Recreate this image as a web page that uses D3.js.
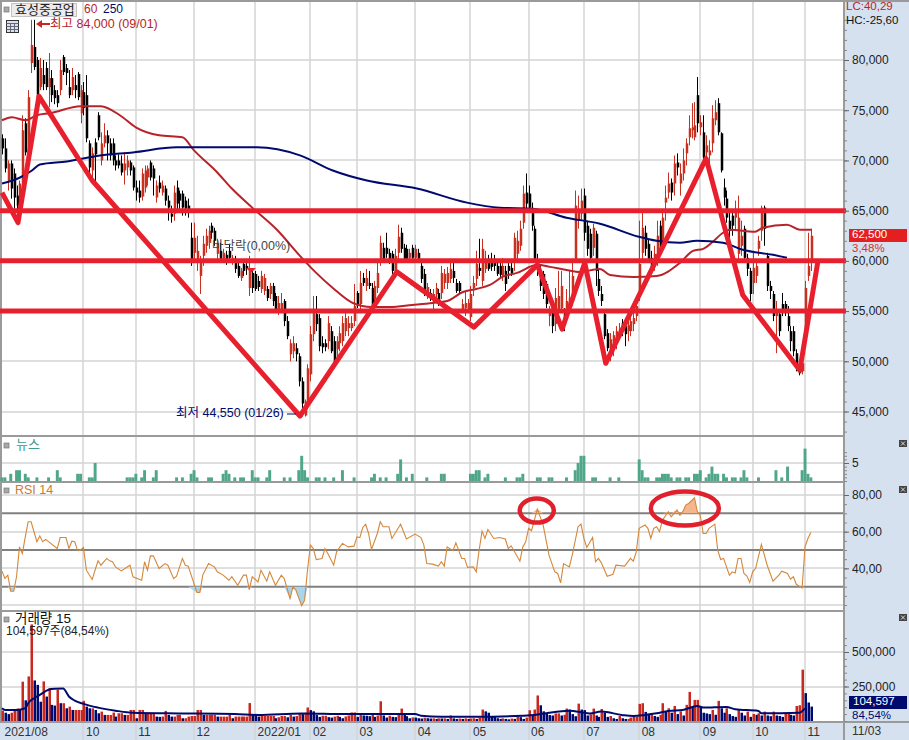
<!DOCTYPE html>
<html lang="ko">
<head>
<meta charset="utf-8">
<title>효성중공업</title>
<script src="https://cdn.jsdelivr.net/npm/d3@7"></script>
<style>
  html, body { margin: 0; padding: 0; background: #fff; }
  svg { display: block; }
  text { font-family: "Liberation Sans", "Noto Sans CJK KR", sans-serif; font-size: 12px; }
</style>
</head>
<body>
<div id="chart"></div>
<script>
// Daily candles, prices in hundreds of won
const opens = [722,712,680,697,687,665,655,677,737,707,
797,813,800,773,785,792,773,782,770,765,
770,803,792,773,770,775,786,747,768,765,
717,690,718,745,700,717,725,717,717,700,
700,697,690,693,698,693,673,670,664,673,
683,698,692,663,678,668,672,660,647,647,
673,667,667,660,655,623,608,600,585,605,
615,618,635,630,607,610,602,606,610,600,
602,595,583,597,595,573,588,587,580,572,
570,572,567,575,565,552,552,560,540,507,
510,513,505,480,446,460,487,527,547,543,
518,518,520,530,520,512,518,520,530,533,
533,540,568,557,583,575,578,573,562,573,
600,613,613,608,607,590,608,628,613,612,
603,613,603,608,595,587,568,568,558,567,
568,568,578,578,582,590,578,578,552,553,
552,544,573,582,593,580,592,602,602,602,
595,595,585,590,595,593,600,607,615,638,
668,667,650,632,600,590,587,577,545,557,
537,550,553,547,545,553,560,600,640,647,
665,635,627,613,627,582,567,547,528,507,
515,520,530,538,535,530,530,537,545,567,
608,628,617,603,597,598,635,618,658,668,
678,677,698,677,687,707,723,730,723,765,
733,728,708,705,717,740,757,727,673,662,
640,645,643,607,615,632,603,590,578,585,
612,630,653,605,575,567,545,547,557,557,
545,530,530,508,497,490,530,585,600];
const closes = [712,692,697,672,663,655,677,730,708,763,
815,793,763,792,776,773,782,765,762,757,
790,788,787,765,783,770,763,770,752,722,
693,707,706,723,717,725,717,705,700,695,
695,688,697,700,690,673,668,663,687,690,
692,683,682,675,672,675,660,653,644,668,
657,660,653,652,650,600,623,610,598,617,
625,630,628,620,618,602,608,600,603,603,
592,585,590,590,592,590,573,572,574,585,
583,563,575,560,552,558,558,540,525,518,
518,507,480,458,460,493,527,552,537,515,
514,514,538,510,497,520,528,538,543,538,
538,555,555,578,578,583,575,553,575,588,
618,602,607,600,590,605,624,612,602,602,
608,603,612,602,582,570,574,565,567,573,
560,588,587,588,592,583,570,570,557,558,
558,567,578,597,590,612,602,592,594,595,
587,586,595,577,590,588,623,620,632,667,
657,653,635,600,592,575,567,557,550,535,
563,565,575,540,560,563,585,655,650,660,
628,612,603,633,590,570,560,525,513,522,
526,530,532,530,527,536,540,543,555,597,
633,612,602,592,607,625,612,643,663,677,
668,697,693,687,700,717,732,733,735,737,
738,703,715,710,742,748,728,690,663,643,
630,635,650,643,625,603,592,567,593,595,
620,653,632,575,570,545,552,530,552,550,
535,520,510,497,488,498,573,595,625];
const highs = [726,722,700,700,692,675,680,745,742,770,
840,840,803,802,800,798,807,790,775,770,
800,805,796,790,792,785,788,775,778,785,
720,713,722,748,728,737,730,722,722,705,
706,705,708,705,700,695,680,680,692,695,
695,700,695,680,685,680,675,665,655,675,
680,670,670,664,662,638,638,625,605,625,
632,635,638,633,622,618,612,610,617,606,
605,598,593,600,600,605,592,590,585,590,
587,575,578,578,568,565,568,562,545,522,
525,518,508,484,462,497,535,565,565,547,
525,522,545,535,525,525,535,545,548,545,
545,577,570,590,588,592,590,578,580,600,
625,618,628,612,610,612,636,633,617,616,
612,616,616,612,600,592,578,572,572,578,
572,595,592,594,602,598,582,580,562,570,
562,575,585,610,622,622,610,606,608,606,
600,600,603,595,600,600,628,630,640,675,
687,675,658,635,607,595,590,580,555,560,
573,590,590,553,572,590,600,670,665,672,
672,640,632,637,630,592,575,552,532,528,
530,535,538,542,540,540,545,548,560,640,
648,635,622,610,615,640,640,650,675,688,
682,705,707,697,712,722,745,757,758,783,
745,745,725,720,755,760,762,728,682,670,
650,650,660,665,640,635,607,593,610,600,
625,655,655,608,580,570,560,550,568,560,
555,535,535,512,500,505,580,628,632];
const lows = [706,688,670,662,652,650,645,668,705,700,
787,790,760,770,770,770,753,758,756,753,
765,785,775,762,765,762,760,737,745,718,
688,683,675,720,695,713,700,700,695,690,
692,685,676,685,685,670,660,658,660,668,
675,680,665,658,668,665,655,640,638,640,
650,650,645,645,643,595,600,590,567,595,
608,612,622,615,600,598,598,596,598,596,
588,583,580,585,586,565,568,570,570,568,
566,560,562,555,548,546,548,535,522,500,
503,500,475,445,445,452,480,520,530,510,
508,510,512,508,495,505,510,515,525,525,
530,535,553,552,575,570,572,550,555,568,
595,598,603,597,587,585,600,608,598,600,
598,600,600,598,578,565,562,560,552,560,
555,562,572,572,578,578,568,567,550,545,
548,540,565,575,585,575,588,590,590,590,
585,583,580,570,582,585,590,600,610,632,
650,650,630,598,585,570,562,553,535,528,
530,540,548,530,540,548,555,598,632,640,
620,605,598,605,575,565,555,522,510,500,
505,512,525,525,515,520,525,530,540,560,
600,605,598,588,590,595,608,612,640,662,
660,665,685,665,680,695,715,722,720,728,
725,698,700,695,708,735,725,688,655,638,
622,625,630,600,605,600,585,560,567,578,
605,620,615,570,562,540,508,525,545,545,
530,510,505,490,486,487,520,580,590];

// Moving averages: bar position and price
const ma60Days = [0,3.4,8,12,16.5,27,34,40.5,46,54,62,66,74,79,86,94.5,102.4,108,113.7,120.6,127,133.3,141,148,153,158.4,163,167.7,172,177,184,188.3,194,198.6,205.5,209,217,225,233,237.5,241,244.3,247.8,250,258.8,261.5,269.8,274.2,278.4];
const ma60Values = [740,743,740,745,747,754,754,745,733,725,723,710,688,672,653,631,605,588,573,558,554,554,556,558,560,569,572,576,584,588,596,594,591,589,592,586,584,585,598,610,612,619,628,631,629,633,636,631,631];
const ma250Days = [0,6.2,10.3,13,22.3,33.7,45,60,87.6,102.4,113.7,125.4,142.6,159.8,171,182.5,194,205.5,218.9,225,233,238.8,247.8,254.6,265,269.8];
const ma250Values = [677,683,690,696,699,705,708,713,713,705,690,680,672,658,653,652,643,637,624,620,618,620,618,611,606,603];

// Support and resistance levels and the hand-drawn zigzag over the candles
const levels = [650,600,550];
const zigzagDays = [0,5.5,12.7,31,102.4,135.7,162.2,184,192.5,200.3,207.5,242,254.6,274.2,280.4];
const zigzagPrices = [668,638,764,680,445.5,589,534,596,532,598,498,702,566,491,599];

// Month labels on the time axis
const monthDays = [0,28,46,66,87,106,122,142,161,181,200,219,240,258,276];
const monthLabels = ["2021/08","10","11","12","2022/01","02","03","04","05","06","07","08","09","10","11"];

// News counts per day
const newsDays = [0,1,3,5,6,8,9,12,16,19,20,26,27,30,31,32,43,44,45,46,48,49,52,53,60,62,65,66,67,71,72,76,77,78,80,82,83,86,87,88,91,92,97,99,102,103,104,105,108,109,111,114,117,121,127,128,130,132,136,137,139,141,146,151,152,161,162,163,164,166,167,173,177,178,179,184,185,188,189,194,197,198,199,200,203,204,209,212,219,220,221,222,225,226,227,228,229,230,232,233,235,236,238,239,240,242,243,244,245,246,248,249,251,252,254,255,256,260,266,268,270,275,276,277,278];
const newsCounts = [1,1,2,3,3,2,1,1,1,3,1,2,2,1,1,5,1,1,1,2,1,3,1,3,1,1,2,3,1,1,1,2,3,2,1,1,1,3,1,1,1,3,1,1,3,7,3,1,1,1,1,1,3,1,1,2,1,1,2,6,1,2,1,2,2,2,2,3,3,1,2,1,1,1,2,1,1,1,1,1,3,5,7,7,1,1,1,1,6,3,1,1,1,1,2,2,2,1,1,1,1,1,2,2,3,1,2,4,2,2,2,1,1,1,1,3,1,1,3,1,4,3,9,2,1];

// RSI(14) turning points
const rsiDays = [0,1,2,3,4,5,6,7,8,9,10,12,13,14,15,19,20,22,23,24,25,26,27,28,29,31,33,34,36,37,38,39,41,44,45,48,49,50,51,52,54,56,57,59,60,62,63,64,67,68,69,71,73,74,76,78,79,81,83,84,85,86,88,89,91,92,94,96,97,99,100,101,103,
104,105,106,107,108,110,111,112,114,115,117,119,121,122,123,124,125,126,127,129,130,131,133,134,137,139,142,144,145,146,148,150,151,152,153,155,156,158,159,160,162,163,164,165,166,167,169,171,173,174,175,178,179,180,181,182,184,186,188,190,191,192,193,195,196,198,199,200,201,203,204,205,
206,208,210,211,214,216,217,218,219,221,222,223,224,225,226,227,229,230,232,233,234,235,236,238,239,240,241,242,243,245,246,247,248,250,251,252,253,254,255,256,257,258,259,261,263,265,267,268,270,271,272,273,274,275,276,277,278];
const rsiValues = [38.5,34.5,36.3,27.5,27.5,35.4,51.7,48,57.2,65.4,65.4,54.5,57.6,54.5,55.8,50.8,56.8,56.8,50.8,54.8,54.5,49.6,49.9,51.4,39,33.9,44.1,41.7,45.4,44.1,43.6,40.8,38.6,41.7,35.4,33.5,43.6,39,46.8,46.8,39.9,42.6,41.7,34.4,35.7,45.4,41.7,41.2,26.8,26.8,36.3,42.6,40.8,38.1,36.3,33.5,35.4,30.8,36.3,36.3,28.4,35.4,32.6,39,33,38.1,30.8,36.3,34.4,23.5,29.9,28.1,19.6,
22.6,39,52.7,50.8,44.8,45.4,50.8,48.1,41.7,49,53.6,51.7,52.1,57.2,56.8,62.3,64,59,50.3,59,65.4,62.7,62.7,56.3,64,56,58.7,56.8,52.7,42.6,42.3,41.2,43.6,41.2,51.7,49.6,53.9,45.4,45.4,40.5,40.8,38.1,49.9,60.3,56.3,61.2,56.3,56.8,56,50.8,52.3,43.9,51.7,54.5,61.8,60.5,72.3,63.6,47.2,38.1,37.2,32.1,42.6,40.8,47.2,62.7,64.1,56.3,51.4,56.8,43.6,45.4,
43,35.7,36.8,41.7,41.2,45.4,43.9,49,61.8,63.6,61.8,56.3,61.8,62.7,60,66.3,70.9,68.1,71.8,69,70.9,74.5,75.4,78.5,70.9,69,59,59,61.8,64.1,49.9,44.8,45.4,36.3,38.1,37.5,45.4,45.4,37.2,35.9,32.3,38.1,39.9,53,41.7,33,36.3,38.4,37.2,34.1,35.4,31.3,30.3,29.3,51.7,56.3,59.6];
const rsiLevels = [70,50,30];
const rsiTicks = [80,60,40];
const rsiGrid = [80,60,40,20];

// Daily volume in thousands of shares
const volumes = [75,60,50,60,85,90,85,285,150,323,
700,294,262,140,287,177,238,117,112,226,
129,129,92,104,80,80,80,80,146,104,
92,92,80,56,68,44,44,44,61,32,
56,56,44,44,80,80,20,80,80,56,
56,56,56,32,30,32,73,44,32,32,
44,44,20,20,32,36,36,80,80,44,
44,44,44,44,32,32,32,32,44,20,
32,32,32,32,32,130,48,44,32,36,
36,36,36,36,20,27,36,36,27,44,
32,36,56,50,60,98,79,70,43,30,
38,38,28,25,32,38,30,20,33,40,
62,62,30,55,40,38,35,55,30,40,
143,40,25,38,30,28,45,90,50,35,
20,26,25,20,18,24,20,18,19,15,
19,18,19,15,40,19,15,18,15,19,
15,18,20,15,25,83,70,60,35,30,
20,15,19,15,12,18,15,30,28,15,
25,78,40,83,185,114,70,55,43,40,
55,55,40,45,90,83,50,35,126,83,
79,40,48,90,40,30,87,60,30,36,
20,15,36,20,15,15,25,32,32,124,
129,66,51,51,36,30,45,129,70,92,
60,109,50,70,40,117,211,104,153,153,
104,60,55,50,80,45,146,92,60,92,
50,36,30,85,60,40,68,30,51,45,
56,40,68,40,35,68,40,36,30,60,
60,45,40,109,114,372,202,134,104.597];
const volMaDays = [0,1,5,8,9,11,13,16,18,21,23,25,28,33,39,45,57,80,88,103,118,142,144,151,163,179,183,188,195,202,206,213,217,221,225,229,234,239,241,249,252,260,261,274,276];
const volMaValues = [92,80,80,92,129,165,190,226,233,235,178,148,124,97,75,60,56,51,44,55,50,50,38,31,31,38,43,60,74,55,68,44,36,44,56,73,80,109,97,102,85,73,56,60,92];

const priceTicks = [450,500,550,600,650,700,750,800];
const volTicks = [250,500];

const width = 909, height = 740;
const plotRight = 844;
const RED = "#e8202e", CANDLE_RED = "#c9301f", NAVY = "#000a6e", PANEL = "#d6e1f0", GRID = "#d4d4d4", FRAME = "#9a9a9a";

const svg = d3.select("#chart").append("svg").attr("width", width).attr("height", height);

const x = d3.scaleLinear().domain([0, 289.4]).range([2, plotRight]);
const yPrice = d3.scaleLinear().domain([450, 800]).range([411.5, 60]);
const yNews = d3.scaleLinear().domain([0, 5]).range([481, 463]);
const yRsi = d3.scaleLinear().domain([20, 80]).range([605, 495]);
const yVol = d3.scaleLinear().domain([0, 500]).range([721, 652]);

const won = v => d3.format(",")(v * 100);
const vol = v => d3.format(",")(v * 1000);
const rsiFmt = v => d3.format(".2f")(v).replace(".", ",");

// Right-hand scale panel and bottom time strip
svg.append("rect").attr("x", plotRight).attr("y", 0).attr("width", width - plotRight).attr("height", height).attr("fill", PANEL);
svg.append("rect").attr("x", 0).attr("y", 722).attr("width", width).attr("height", 18).attr("fill", PANEL);

// Grid
const grid = svg.append("g").attr("stroke", GRID).attr("stroke-width", 1.5);
const hGrid = (vals, scale) => grid.append("g").selectAll("line").data(vals).join("line")
  .attr("x1", 1).attr("x2", plotRight).attr("y1", d => Math.round(scale(d))).attr("y2", d => Math.round(scale(d)));
hGrid(priceTicks, yPrice);
hGrid([5], yNews);
hGrid(rsiGrid, yRsi);
hGrid(volTicks, yVol);
grid.append("g").selectAll("line").data(monthDays.slice(1)).join("line")
  .attr("x1", d => Math.round(x(d))).attr("x2", d => Math.round(x(d))).attr("y1", 1).attr("y2", 740);

// Pane frames
const frame = svg.append("g").attr("stroke", FRAME).attr("stroke-width", 2);
[[0,1,909,1],[0,436,844,436],[0,482,844,482],[0,611,844,611],[0,722,909,722],[plotRight,0,plotRight,740],[1,0,1,722]]
  .forEach(l => frame.append("line").attr("x1", l[0]).attr("y1", l[1]).attr("x2", l[2]).attr("y2", l[3]));
svg.append("line").attr("x1", plotRight).attr("x2", plotRight).attr("y1", 722).attr("y2", 740).attr("stroke", FRAME);

// Candles
const candles = svg.append("g");
const bars = d3.range(opens.length);
const candleColor = i => closes[i] > opens[i] ? CANDLE_RED : "#000";
candles.selectAll("line").data(bars).join("line")
  .attr("x1", i => Math.round(x(i)) + .5).attr("x2", i => Math.round(x(i)) + .5)
  .attr("y1", i => yPrice(highs[i])).attr("y2", i => yPrice(lows[i]))
  .attr("stroke", candleColor).attr("stroke-width", 1);
candles.selectAll("rect").data(bars).join("rect")
  .attr("x", i => Math.round(x(i)) - .25).attr("width", 2.5)
  .attr("y", i => yPrice(Math.max(opens[i], closes[i])))
  .attr("height", i => Math.max(1.5, Math.abs(yPrice(opens[i]) - yPrice(closes[i]))))
  .attr("fill", candleColor);

// Moving averages
const seriesLine = (days, vals, scale) => d3.line().x((d, k) => x(days[k])).y((d, k) => scale(vals[k])).curve(d3.curveMonotoneX)(vals);
svg.append("path").attr("d", seriesLine(ma60Days, ma60Values, yPrice)).attr("fill", "none").attr("stroke", "#b8232a").attr("stroke-width", 2);
svg.append("path").attr("d", seriesLine(ma250Days, ma250Values, yPrice)).attr("fill", "none").attr("stroke", NAVY).attr("stroke-width", 2);

// Levels and zigzag
svg.append("g").selectAll("line").data(levels).join("line")
  .attr("x1", 0).attr("x2", plotRight + 2).attr("y1", d => yPrice(d)).attr("y2", d => yPrice(d))
  .attr("stroke", RED).attr("stroke-width", 5);
svg.append("path")
  .attr("d", d3.line().x((d, k) => x(zigzagDays[k])).y(d => yPrice(d))(zigzagPrices))
  .attr("fill", "none").attr("stroke", RED).attr("stroke-width", 5).attr("stroke-linejoin", "round");

// News bars
svg.append("g").selectAll("rect").data(newsDays).join("rect")
  .attr("x", d => x(d) - 1.45).attr("width", 2.95)
  .attr("y", (d, k) => yNews(newsCounts[k])).attr("height", (d, k) => yNews(0) - yNews(newsCounts[k]))
  .attr("fill", "#4fa688");

// RSI pane: overbought and oversold fills, guide levels, line
svg.append("g").selectAll("line").data(rsiLevels).join("line")
  .attr("x1", 2).attr("x2", plotRight - 1).attr("y1", d => yRsi(d)).attr("y2", d => yRsi(d))
  .attr("stroke", "#808080").attr("stroke-width", 2);
const rsiArea = (limit, pick, color) => svg.append("path")
  .attr("d", d3.area().x((d, k) => x(rsiDays[k])).y0(yRsi(limit)).y1(d => yRsi(pick(d, limit)))(rsiValues))
  .attr("fill", color);
rsiArea(70, Math.max, "#f6b68d");
rsiArea(30, Math.min, "#a9d5ea");
svg.append("path")
  .attr("d", d3.line().x((d, k) => x(rsiDays[k])).y(d => yRsi(d))(rsiValues))
  .attr("fill", "none").attr("stroke", "#d5873a").attr("stroke-width", 1.1);

// Circled RSI peaks
const circled = [{day: 183.8, value: 71.5, rx: 17, ry: 12}, {day: 234.7, value: 72.7, rx: 34, ry: 17}];
svg.append("g").selectAll("ellipse").data(circled).join("ellipse")
  .attr("cx", d => x(d.day)).attr("cy", d => yRsi(d.value)).attr("rx", d => d.rx).attr("ry", d => d.ry)
  .attr("fill", "none").attr("stroke", "#e0202c").attr("stroke-width", 4.5);

// Volume bars: red when volume rose from the previous day, navy when it fell
svg.append("g").selectAll("rect").data(volumes).join("rect")
  .attr("x", (d, i) => Math.round(x(i)) - .5).attr("width", 2.5)
  .attr("y", d => yVol(d)).attr("height", d => yVol(0) - yVol(d))
  .attr("fill", (d, i) => i === 0 || d >= volumes[i - 1] ? "#c9281f" : NAVY);
svg.append("path").attr("d", seriesLine(volMaDays, volMaValues, yVol)).attr("fill", "none").attr("stroke", NAVY).attr("stroke-width", 2);

// Value axes on the right: minor ticks first, then labelled major ticks
function valueAxis(scale, major, minor, fmt) {
  const g = svg.append("g").attr("transform", `translate(${plotRight},0)`);
  g.append("g").call(d3.axisRight(scale).tickValues(minor).tickSize(3).tickFormat("").tickSizeOuter(0))
    .call(s => s.select(".domain").remove()).selectAll("line").attr("stroke", "#888");
  g.append("g").call(d3.axisRight(scale).tickValues(major).tickSize(5).tickPadding(3).tickFormat(fmt).tickSizeOuter(0))
    .call(s => s.select(".domain").remove())
    .call(s => s.selectAll("line").attr("stroke", "#666"))
    .call(s => s.selectAll("text").attr("fill", "#222").style("font-size", "12px"));
}
valueAxis(yPrice, priceTicks, d3.range(430, 850, 10), won);
valueAxis(yNews, [5], d3.range(0, 9), d3.format("d"));
valueAxis(yRsi, rsiTicks, d3.range(20, 85, 5), rsiFmt);
valueAxis(yVol, volTicks, d3.range(0, 650, 50), vol);

// Time axis
const timeAxis = svg.append("g").attr("transform", "translate(0,722)")
  .call(d3.axisBottom(x).tickValues(monthDays).tickSize(0).tickFormat((d, k) => monthLabels[k]));
timeAxis.select(".domain").remove();
timeAxis.selectAll("text").attr("text-anchor", "start").attr("dx", 2).attr("y", 5).attr("fill", "#333").style("font-size", "12px");

// Labels
const label = (tx, ty, str, color, size) => svg.append("text").attr("x", tx).attr("y", ty)
  .attr("dominant-baseline", "middle").attr("fill", color).style("font-size", (size || 12) + "px").text(str);

function legendDot(px, py) {
  svg.append("rect").attr("x", px).attr("y", py).attr("width", 5).attr("height", 5).attr("fill", "#a8a8a8").attr("stroke", "#777").attr("stroke-width", .7);
}
legendDot(4, 7);
svg.append("rect").attr("x", 11.5).attr("y", 3.5).attr("width", 65).attr("height", 13).attr("fill", "#ececec").attr("stroke", "#c4c4c4");
label(15, 10.5, "효성중공업", "#222", 13);
label(84, 10, "60", "#b8232a");
label(103, 10, "250", NAVY);

// Table button
const tableIcon = svg.append("g").attr("fill", "none").attr("stroke", "#333");
tableIcon.append("rect").attr("x", 6.5).attr("y", 20.5).attr("width", 12).attr("height", 12).attr("fill", "#d8e2ee");
[10.5, 14.5].forEach(v => tableIcon.append("line").attr("x1", v).attr("x2", v).attr("y1", 23).attr("y2", 32).attr("stroke", "#667"));
[23.5, 26.5, 29.5].forEach(v => tableIcon.append("line").attr("x1", 6.5).attr("x2", 18.5).attr("y1", v).attr("y2", v).attr("stroke", "#667"));

// High and low callouts
svg.append("path").attr("d", "M36,24L42,20V23H50V25H42V28Z").attr("fill", "#c9281f");
label(50, 24.5, "최고 84,000 (09/01)", "#b8232a", 12.5);
label(176, 413.5, "최저 44,550 (01/26)", NAVY, 12.5);
svg.append("line").attr("x1", 287).attr("x2", 296).attr("y1", 414).attr("y2", 414).attr("stroke", NAVY);

label(212, 247, "바닥락(0,00%)", "#444", 12.5);
svg.append("path").attr("d", "M246,268H256L251,273Z").attr("fill", RED);

label(846, 7, "LC:40,29", "#b8232a", 11.5);
label(846, 20.5, "HC:-25,60", "#111", 11.5);

svg.append("rect").attr("x", 849).attr("y", 229).attr("width", 58).attr("height", 13).attr("fill", "#e3201f");
label(852, 235, "62,500", "#fff", 11.5);
label(852, 248.5, "3,48%", "#d8302a", 11.5);

svg.append("rect").attr("x", 849).attr("y", 696).attr("width", 58).attr("height", 13).attr("fill", NAVY);
label(853, 702, "104,597", "#fff", 11.5);
label(852, 715.5, "84,54%", NAVY, 11.5);
label(852, 732, "11/03", "#333");

legendDot(4, 443);
label(16, 446, "뉴스", "#3f9a90", 13);
legendDot(4, 488);
label(15, 491, "RSI 14", "#cc7a30", 12.5);
legendDot(4, 617);
label(15, 619, "거래량  15", "#111", 13.5);
label(6, 632, "104,597주(84,54%)", "#222", 12);

// Pane close buttons
[440, 486, 614].forEach(py => {
  const b = svg.append("g");
  b.append("rect").attr("x", 899).attr("y", py).attr("width", 8).attr("height", 7).attr("fill", "#444");
  b.append("path").attr("d", `M901,${py + 1.5}L905,${py + 5.5}M905,${py + 1.5}L901,${py + 5.5}`).attr("stroke", "#fff").attr("stroke-width", .8);
});
</script>
</body>
</html>
